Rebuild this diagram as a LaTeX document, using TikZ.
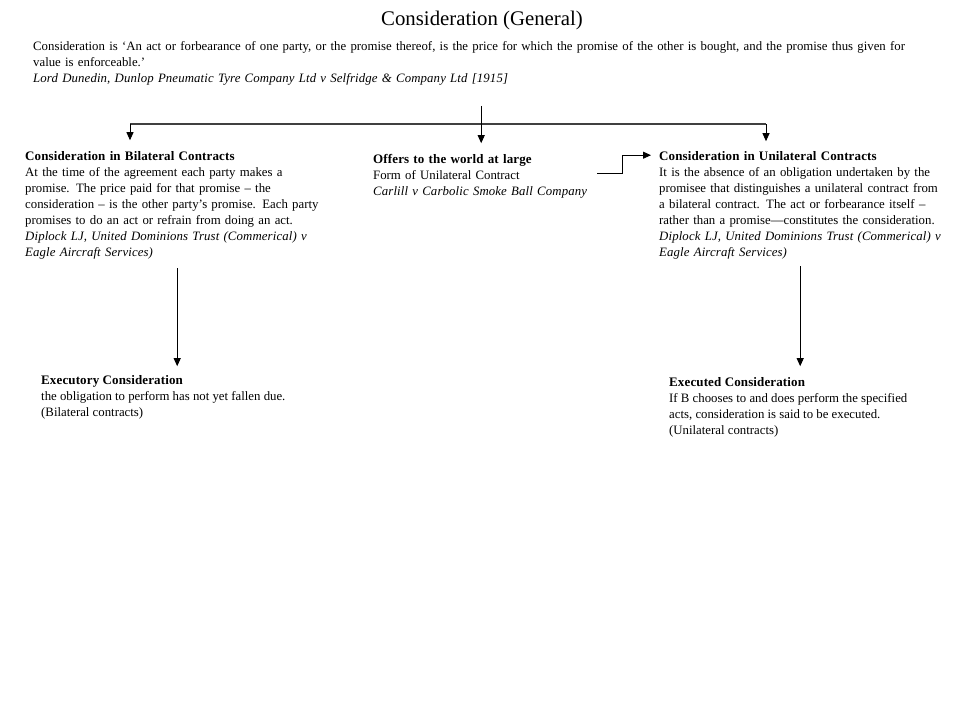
\documentclass[tikz,border=0pt]{standalone}
\usepackage{fontspec}
\setmainfont{Liberation Serif}
\usetikzlibrary{arrows.meta}
\begin{document}
\begin{tikzpicture}[x=1pt,y=-1pt,
  txt/.style={anchor=north west,inner sep=0pt,align=left,font=\fontsize{12.8}{16}\selectfont},
  arr/.style={draw=black,line width=0.9pt,-{Triangle[width=7pt,length=8pt]}},
  brk/.style={draw=black!75,line width=1.4pt}]
\useasboundingbox[fill=white] (0,0) rectangle (960,720);
\newcommand{\hdr}[1]{{\bfseries\fontsize{13}{16}\selectfont\addfontfeature{LetterSpace=1}#1}}
\newcommand{\itl}[1]{{\itshape\addfontfeature{LetterSpace=1}#1}}
\node[anchor=center,inner sep=0pt,font=\fontsize{20.8}{24}\selectfont] (title) at (482,20) {Consideration (General)};
\node[txt,text width=900pt] (intro) at (33,41.7) {Consideration is ‘An act or forbearance of one party, or the promise thereof, is the price  for which the promise of the other is bought, and the promise thus given for\\
value is enforceable.’\\
\itl{Lord Dunedin, Dunlop Pneumatic Tyre Company Ltd v Selfridge \& Company Ltd [1915]}};
\node[txt,text width=304pt] (bil) at (25,151.7) {\hdr{Consideration in Bilateral Contracts}\\
At the time of the agreement each party makes a\\
promise.  The price paid for that promise – the\\
consideration – is the other party’s promise.  Each party\\
promises to do an act or refrain from doing an act.\\
\itl{Diplock LJ, United Dominions Trust (Commerical) v}\\
\itl{Eagle Aircraft Services)}};
\node[txt,text width=216pt] (off) at (373,153.7) {\hdr{Offers to the world at large}\\
Form of Unilateral Contract\\
\itl{Carlill v Carbolic Smoke Ball Company}};
\node[txt,text width=282pt] (uni) at (659,151.7) {\hdr{Consideration in Unilateral Contracts}\\
It is  the absence of an obligation undertaken by the\\
promisee that distinguishes  a unilateral contract from\\
a bilateral contract. The act or  forbearance itself –\\
rather than a promise—constitutes the consideration.\\
\itl{Diplock LJ, United Dominions Trust (Commerical)  v}\\
\itl{Eagle Aircraft Services)}};
\node[txt] (exy) at (41,375.7) {\hdr{Executory Consideration}\\
the obligation to perform has not yet fallen due.\\
(Bilateral contracts)};
\node[txt] (exd) at (669,377.7) {\hdr{Executed Consideration}\\
If B chooses to and does perform the specified\\
acts, consideration is said to be executed.\\
(Unilateral contracts)};
\coordinate (hubL) at (130,124);
\coordinate (hubR) at (766,124);
\draw[brk] (hubL) -- (hubR);
\draw[arr] ([yshift=-20pt]intro.south -| off.north) -- ([yshift=10.5pt]off.north);
\draw[arr] (hubL) -- ([yshift=11.5pt]hubL |- bil.north);
\draw[arr] (hubR) -- ([yshift=10.5pt]hubR |- uni.north);
\draw[arr] ([xshift=8pt,yshift=2.5pt]off.east) -- ++(25,0) |- ([xshift=-8pt,yshift=-3.5pt]uni.north west);
\draw[arr] ([yshift=-8.5pt]bil.south) -- ([yshift=9.5pt]bil.south |- exy.north);
\draw[arr] ([yshift=-6.5pt]uni.south) -- ([yshift=11.5pt]uni.south |- exd.north);
\end{tikzpicture}
\end{document}
